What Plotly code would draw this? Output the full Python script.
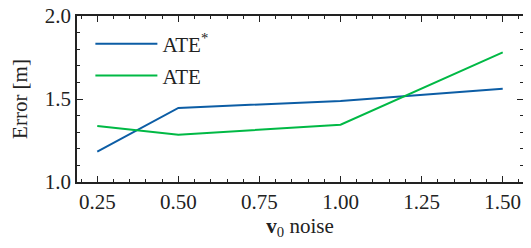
import plotly.graph_objects as go

noise = [0.25, 0.5, 1.0, 1.5]
ate_star = [1.183, 1.446, 1.488, 1.562]
ate = [1.337, 1.285, 1.345, 1.781]
x_ticks = [0.25, 0.5, 0.75, 1.0, 1.25, 1.5]
x_tick_labels = ["0.25", "0.50", "0.75", "1.00", "1.25", "1.50"]
y_ticks = [1.0, 1.5, 2.0]
y_tick_labels = ["1.0", "1.5", "2.0"]

FONT = "Liberation Serif"
FS = 21
fig = go.Figure()
fig.add_trace(go.Scatter(x=noise, y=ate_star, mode="lines", name="ATE<sup>*</sup>",
                         line=dict(color="#0C5DA5", width=2), legend="legend", showlegend=True))
fig.add_trace(go.Scatter(x=noise, y=ate, mode="lines", name="ATE",
                         line=dict(color="#00B945", width=2), legend="legend2", showlegend=True))

axis_common = dict(showline=True, linecolor="#222", linewidth=1.5, mirror="ticks",
                   ticks="inside", ticklen=6, tickwidth=1.2, tickcolor="#222",
                   showgrid=False, zeroline=False, automargin=False, layer="above traces",
                   ticklabeloverflow="allow",
                   tickfont=dict(family=FONT, size=FS, color="#222"))
fig.update_xaxes(range=[0.1875, 1.5625], tickmode="array", tickvals=x_ticks, ticktext=x_tick_labels,
                 minor=dict(ticks="inside", ticklen=3.5, dtick=0.05, tick0=0, tickcolor="#222", tickwidth=1),
                 title=dict(text="<b>v</b><sub>0</sub> noise", font=dict(family=FONT, size=FS, color="#222"), standoff=4),
                 **axis_common)
fig.update_yaxes(range=[1.0, 2.0], tickmode="array", tickvals=y_ticks, ticktext=y_tick_labels,
                 minor=dict(ticks="inside", ticklen=3.5, dtick=0.1, tick0=0, tickcolor="#222", tickwidth=1),
                 title=dict(text="Error [m]", font=dict(family=FONT, size=FS, color="#222"), standoff=12),
                 **axis_common)
leg = dict(bgcolor="rgba(0,0,0,0)", font=dict(family=FONT, size=FS, color="#222"),
           xanchor="left", yanchor="middle", itemwidth=62)
fig.update_layout(
    width=523, height=240,
    margin=dict(l=69, r=8, t=8, b=66),
    plot_bgcolor="white", paper_bgcolor="white",
    showlegend=True,
    legend=dict(x=0.03, y=0.83, **leg),
    legend2=dict(x=0.03, y=0.64, **leg),
)
fig.write_html("out.html")
